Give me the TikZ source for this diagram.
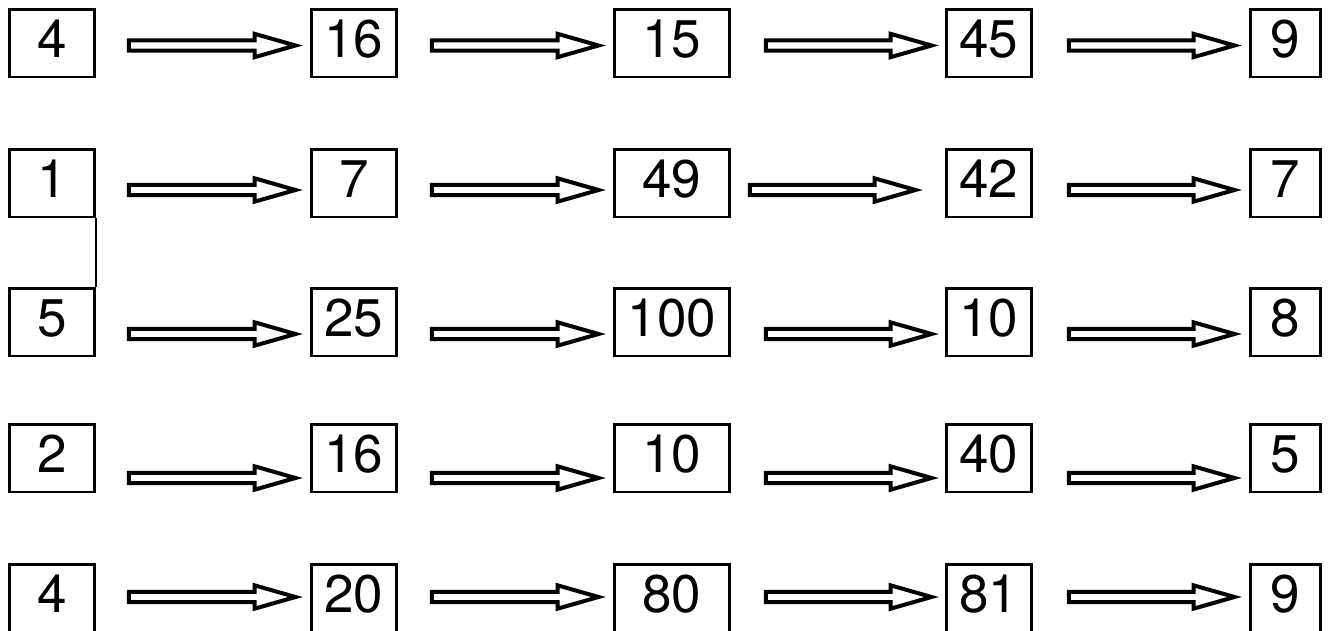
\documentclass[tikz,border=0pt]{standalone}
\usepackage{fontspec}
\setmainfont{TeX Gyre Heros}
\usetikzlibrary{calc}
\tikzset{
  box/.style={draw, line width=1.35pt, inner sep=0pt, anchor=north west,
    minimum height=33.8pt, text height=23.9pt, text depth=9.9pt,
    font=\fontsize{26.5}{30}\selectfont},
  colA/.style={box, minimum width=42.6pt},
  colC/.style={box, minimum width=57.6pt},
  colE/.style={box, minimum width=35.1pt},
  blockarr/.style={draw, line width=2pt, line join=miter},
  link/.style={draw, line width=1.35pt}
}
\newcommand\barr[5]{%
  \draw[blockarr] let \p1=(#1.east), \p2=(#2.west), \p3=(0,#5) in
    (\x1+#3,\y3+2.6pt) -- (\x2-#4-20.5pt,\y3+2.6pt) -- (\x2-#4-20.5pt,\y3+5.85pt)
    -- (\x2-#4,\y3) -- (\x2-#4-20.5pt,\y3-5.85pt) -- (\x2-#4-20.5pt,\y3-2.6pt)
    -- (\x1+#3,\y3-2.6pt) -- cycle;}
\begin{document}
\begin{tikzpicture}[x=0.5pt,y=-0.5pt]
  \useasboundingbox (0,0) rectangle (1328,631);
  \clip (0,0) rectangle (1328,631);
  % row 1
  \node[colA] (r1c1) at (8,8) {4};
  \node[colA] (r1c2) at (310,8) {16};
  \node[colC] (r1c3) at (613,8) {15};
  \node[colA] (r1c4) at (945,8) {45};
  \node[colE] (r1c5) at (1249,8) {9};
  % row 2
  \node[colA] (r2c1) at (8,148) {1};
  \node[colA] (r2c2) at (310,148) {7};
  \node[colC] (r2c3) at (613,148) {49};
  \node[colA] (r2c4) at (945,148) {42};
  \node[colE] (r2c5) at (1249,148) {7};
  % row 3
  \node[colA] (r3c1) at (8,287) {5};
  \node[colA] (r3c2) at (310,287) {25};
  \node[colC] (r3c3) at (613,287) {100};
  \node[colA] (r3c4) at (945,287) {10};
  \node[colE] (r3c5) at (1249,287) {8};
  % row 4
  \node[colA] (r4c1) at (8,423) {2};
  \node[colA] (r4c2) at (310,423) {16};
  \node[colC] (r4c3) at (613,423) {10};
  \node[colA] (r4c4) at (945,423) {40};
  \node[colE] (r4c5) at (1249,423) {5};
  % row 5
  \node[colA] (r5c1) at (8,563) {4};
  \node[colA] (r5c2) at (310,563) {20};
  \node[colC] (r5c3) at (613,563) {80};
  \node[colA] (r5c4) at (945,563) {81};
  \node[colE] (r5c5) at (1249,563) {9};
  % link between 1 and 5
  \draw[link] (r2c1.south east) -- (r3c1.north east);
  % arrows
  \barr{r1c1}{r1c2}{16.5pt}{7.25pt}{45.5}
  \barr{r1c2}{r1c3}{17pt}{7.25pt}{45.5}
  \barr{r1c3}{r1c4}{17.5pt}{6.75pt}{45.5}
  \barr{r1c4}{r1c5}{18pt}{7.25pt}{45.5}
  \barr{r2c1}{r2c2}{16.5pt}{7.25pt}{190}
  \barr{r2c2}{r2c3}{17pt}{7.25pt}{190}
  \barr{r2c3}{r2c4}{9.5pt}{14.75pt}{190}
  \barr{r2c4}{r2c5}{18pt}{7.25pt}{190}
  \barr{r3c1}{r3c2}{16.5pt}{7.25pt}{334}
  \barr{r3c2}{r3c3}{17pt}{7.25pt}{334}
  \barr{r3c3}{r3c4}{17.5pt}{6.75pt}{334}
  \barr{r3c4}{r3c5}{18pt}{7.25pt}{334}
  \barr{r4c1}{r4c2}{16.5pt}{7.25pt}{478}
  \barr{r4c2}{r4c3}{17pt}{7.25pt}{478}
  \barr{r4c3}{r4c4}{17.5pt}{6.75pt}{478}
  \barr{r4c4}{r4c5}{18pt}{7.25pt}{478}
  \barr{r5c1}{r5c2}{16.5pt}{7.25pt}{597}
  \barr{r5c2}{r5c3}{17pt}{7.25pt}{597}
  \barr{r5c3}{r5c4}{17.5pt}{6.75pt}{597}
  \barr{r5c4}{r5c5}{18pt}{7.25pt}{597}
\end{tikzpicture}
\end{document}
